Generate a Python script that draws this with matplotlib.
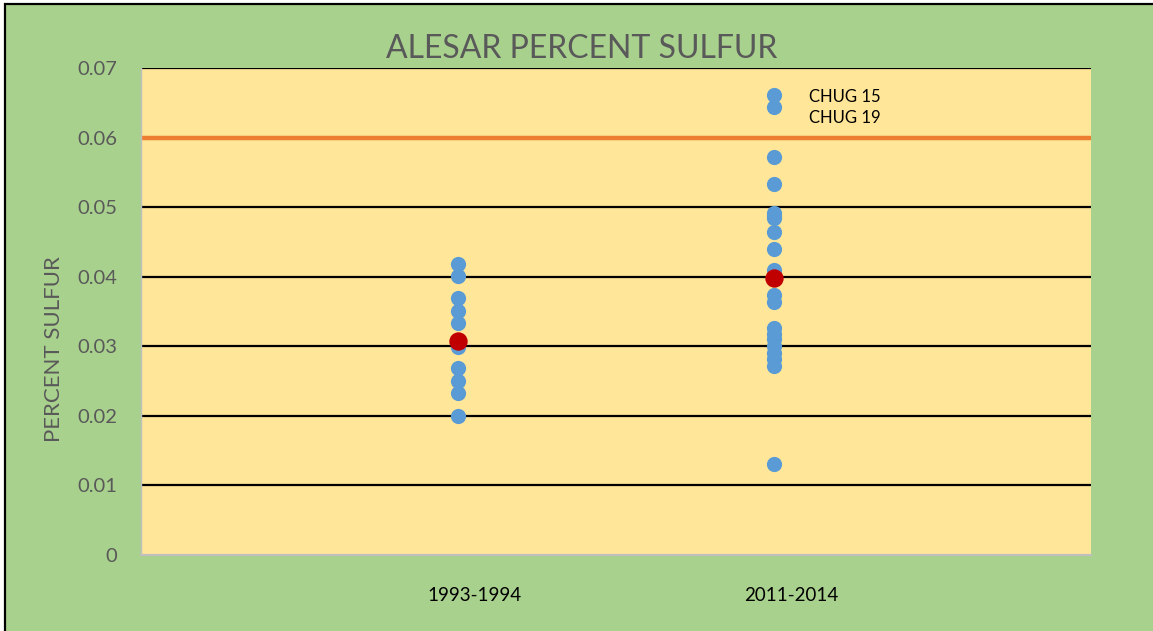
import matplotlib

matplotlib.use("Agg")
import matplotlib.pyplot as plt
import matplotlib.transforms as mtransforms
from matplotlib.patches import Rectangle

plt.rcParams["font.family"] = ["Lato", "DejaVu Sans"]

GREEN = "#A9D18E"
PAPER = "#FFE699"
BLUE = "#5B9BD5"
RED = "#C00000"
ORANGE = "#ED7D31"
GRAY = "#595959"

periods = ["1993-1994", "2011-2014"]
sulfur_1993 = [0.0418, 0.0401, 0.0369, 0.0351, 0.0333, 0.0299, 0.0269,
               0.0250, 0.0233, 0.0200]
sulfur_2011 = [0.0661, 0.0644, 0.0572, 0.0533, 0.0491, 0.0487, 0.0484,
               0.0464, 0.0440, 0.0409, 0.0373, 0.0363, 0.0326, 0.0318,
               0.0310, 0.0300, 0.0290, 0.0282, 0.0272, 0.0131]
period_means = [0.0307, 0.0398]
limit = 0.06
labels = ["CHUG 15", "CHUG 19"]
labelled_values = [0.0661, 0.0644]
yticks = [0, 0.01, 0.02, 0.03, 0.04, 0.05, 0.06, 0.07]
ytick_labels = ["0", "0.01", "0.02", "0.03", "0.04", "0.05", "0.06", "0.07"]

fig = plt.figure(figsize=(11.53, 6.31), dpi=100)
fig.patch.set_facecolor("white")
# green chart area with black frame (right/bottom edges run off the canvas)
fig.patches.append(Rectangle((5 / 1153, -0.02), 1.1, (631 - 4) / 631 + 0.02,
                             transform=fig.transFigure, facecolor=GREEN,
                             edgecolor="black", linewidth=1.6, zorder=-10))

ax = fig.add_axes([141 / 1153, 76 / 631, 950 / 1153, 487 / 631])
ax.set_facecolor(PAPER)

for y in yticks[1:]:
    ax.axhline(y, color="black", linewidth=1.6, zorder=1)
ax.axhline(limit, color=ORANGE, linewidth=3.2, zorder=2)

ax.scatter([1] * len(sulfur_1993), sulfur_1993, s=120, color=BLUE,
           linewidths=0, zorder=3)
ax.scatter([2] * len(sulfur_2011), sulfur_2011, s=120, color=BLUE,
           linewidths=0, zorder=3)
ax.scatter([1, 2], period_means, s=175, color=RED, linewidths=0, zorder=4)

# labels sit to the right; second one nudged down so they stack
for i, (name, v) in enumerate(zip(labels, labelled_values)):
    ax.annotate(name, (2, v), xytext=(25, -1.5 - 6.3 * i),
                textcoords="offset points",
                fontsize=12, color="black", ha="left", va="center")

ax.set_xlim(0, 3)
ax.set_ylim(0, 0.07)
ax.set_yticks(yticks)
ax.set_yticklabels(ytick_labels)
ax.set_xticks([1, 2])
ax.set_xticklabels(periods)
ax.tick_params(axis="y", length=0, pad=17, labelsize=14.5, labelcolor=GRAY)
ax.tick_params(axis="x", length=0, pad=23, labelsize=13.5, labelcolor="black")
shift = mtransforms.ScaledTranslation(0.17, 0, fig.dpi_scale_trans)
for t in ax.get_xticklabels():
    t.set_transform(t.get_transform() + shift)

for side in ("top", "right"):
    ax.spines[side].set_visible(False)
ax.spines["left"].set_color("#BFBFBF")
ax.spines["left"].set_linewidth(1.0)
ax.spines["bottom"].set_color("#BFBFBF")
ax.spines["bottom"].set_linewidth(1.6)

fig.text(54 / 1153, (631 - 349) / 631, "PERCENT SULFUR", rotation=90,
         ha="center", va="center", fontsize=16, color=GRAY)
fig.text(582 / 1153, (631 - 58) / 631, "ALESAR PERCENT SULFUR",
         ha="center", va="baseline", fontsize=23, color=GRAY)

fig.savefig("out.png", dpi=100)
